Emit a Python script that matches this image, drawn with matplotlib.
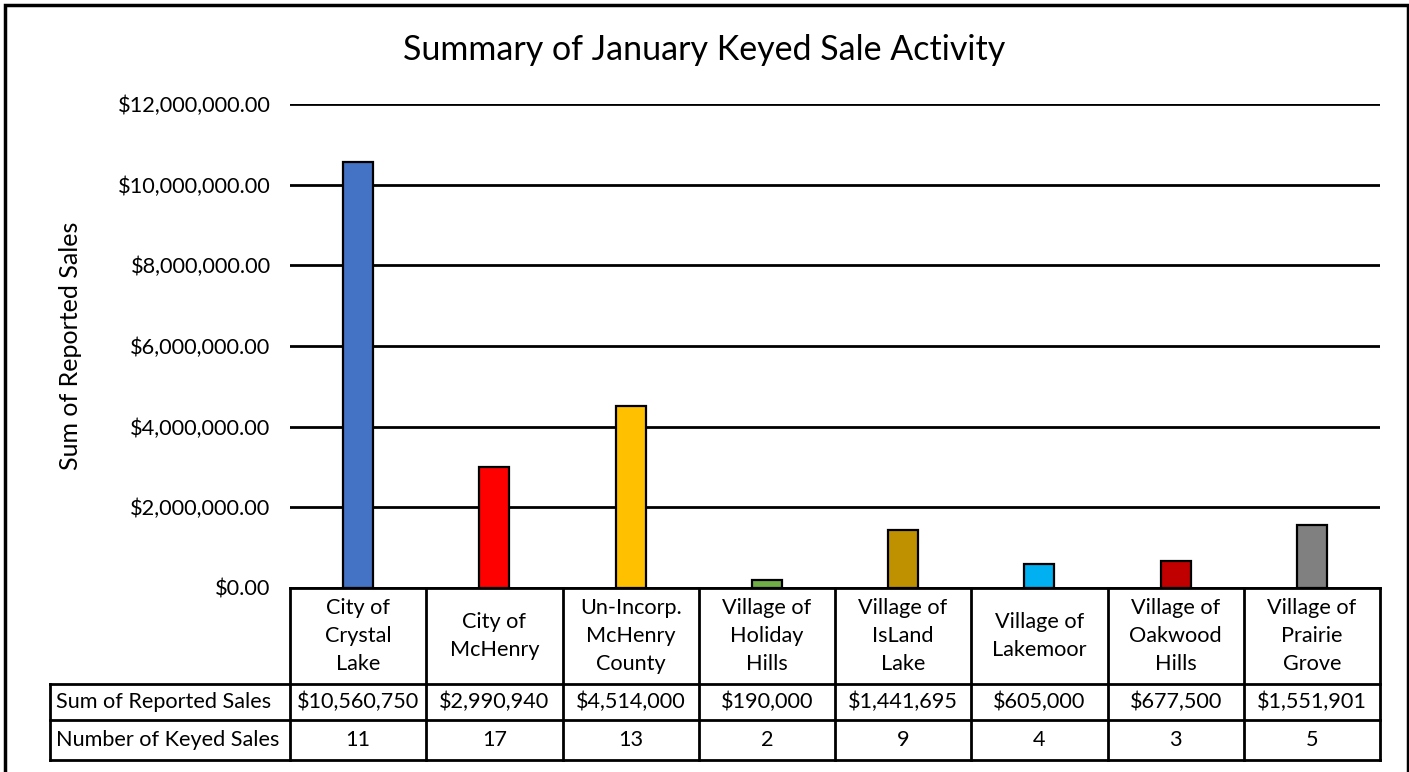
import matplotlib
matplotlib.use("Agg")
import matplotlib.pyplot as plt
from matplotlib.patches import Rectangle
from matplotlib.transforms import blended_transform_factory
from matplotlib.ticker import FuncFormatter

# Data
categories = ['City of\nCrystal\nLake', 'City of\nMcHenry', 'Un-Incorp.\nMcHenry\nCounty',
              'Village of\nHoliday\nHills', 'Village of\nIsLand\nLake', 'Village of\nLakemoor',
              'Village of\nOakwood\nHills', 'Village of\nPrairie\nGrove']
sales = [10560750, 2990940, 4514000, 190000, 1441695, 605000, 677500, 1551901]
keyed = [11, 17, 13, 2, 9, 4, 3, 5]
row_labels = ['Sum of Reported Sales', 'Number of Keyed Sales']
colors = ['#4472C4', '#FF0000', '#FFC000', '#70AD47', '#BF9000', '#00B0F0', '#C00000', '#808080']

plt.rcParams['font.family'] = ['Lato', 'DejaVu Sans']

W, H = 1409, 772
fig = plt.figure(figsize=(W / 100, H / 100), dpi=100)

# outer chart border
fig.patches.append(Rectangle((5 / W, -0.05), 1403 / W, 1 - 5 / H + 0.05, transform=fig.transFigure,
                             fill=False, edgecolor='black', linewidth=2.5))

x0, x1, y_top, y_bot = 290, 1380, 104, 588
ax = fig.add_axes([x0 / W, 1 - y_bot / H, (x1 - x0) / W, (y_bot - y_top) / H])

idx = range(len(categories))
ax.bar(idx, sales, width=0.22, color=colors, edgecolor='black', linewidth=1.6, zorder=3)

ax.set_xlim(-0.5, len(categories) - 0.5)
ax.set_ylim(0, 12000000)
ax.set_yticks(range(0, 12000001, 2000000))
ax.yaxis.set_major_formatter(FuncFormatter(lambda v, p: '${:,.2f}'.format(v)))
ax.tick_params(axis='y', length=0, pad=14, labelsize=15.7)
ax.set_xticks([])
ax.grid(axis='y', color='black', linewidth=2, zorder=0)
for s in ax.spines.values():
    s.set_visible(False)

ax.set_ylabel('Sum of Reported Sales', fontsize=18, labelpad=26)
fig.text(0.5, 1 - 50 / H, 'Summary of January Keyed Sale Activity', ha='center', va='center', fontsize=24.5)

# data table under the axis
tr = blended_transform_factory(ax.transData, ax.transAxes)
ph = y_bot - y_top
def yf(py):
    return (y_bot - py) / ph

rows_y = [588, 684, 720, 760]
left = -0.5 - (x0 - 50) / ((x1 - x0) / len(categories))
right = len(categories) - 0.5
lw = 2
kw = dict(color='black', linewidth=lw, transform=tr, clip_on=False, solid_capstyle='projecting')

ax.plot([-0.5, right], [yf(588)] * 2, **kw)
for py in rows_y[1:]:
    ax.plot([left, right], [yf(py)] * 2, **kw)
ax.plot([left, left], [yf(684), yf(760)], **kw)
for i in range(len(categories) + 1):
    ax.plot([i - 0.5, i - 0.5], [yf(588), yf(760)], **kw)

fs = 15.6
for i, cat in enumerate(categories):
    ax.text(i, yf(636), cat, transform=tr, ha='center', va='center', fontsize=fs, linespacing=1.52)
    ax.text(i, yf(702), '${:,}'.format(sales[i]), transform=tr, ha='center', va='center', fontsize=fs)
    ax.text(i, yf(740), str(keyed[i]), transform=tr, ha='center', va='center', fontsize=fs)

for label, py in zip(row_labels, [702, 740]):
    ax.text(left + 0.045, yf(py), label, transform=tr, ha='left', va='center', fontsize=fs)

fig.savefig('out.png', dpi=100)
